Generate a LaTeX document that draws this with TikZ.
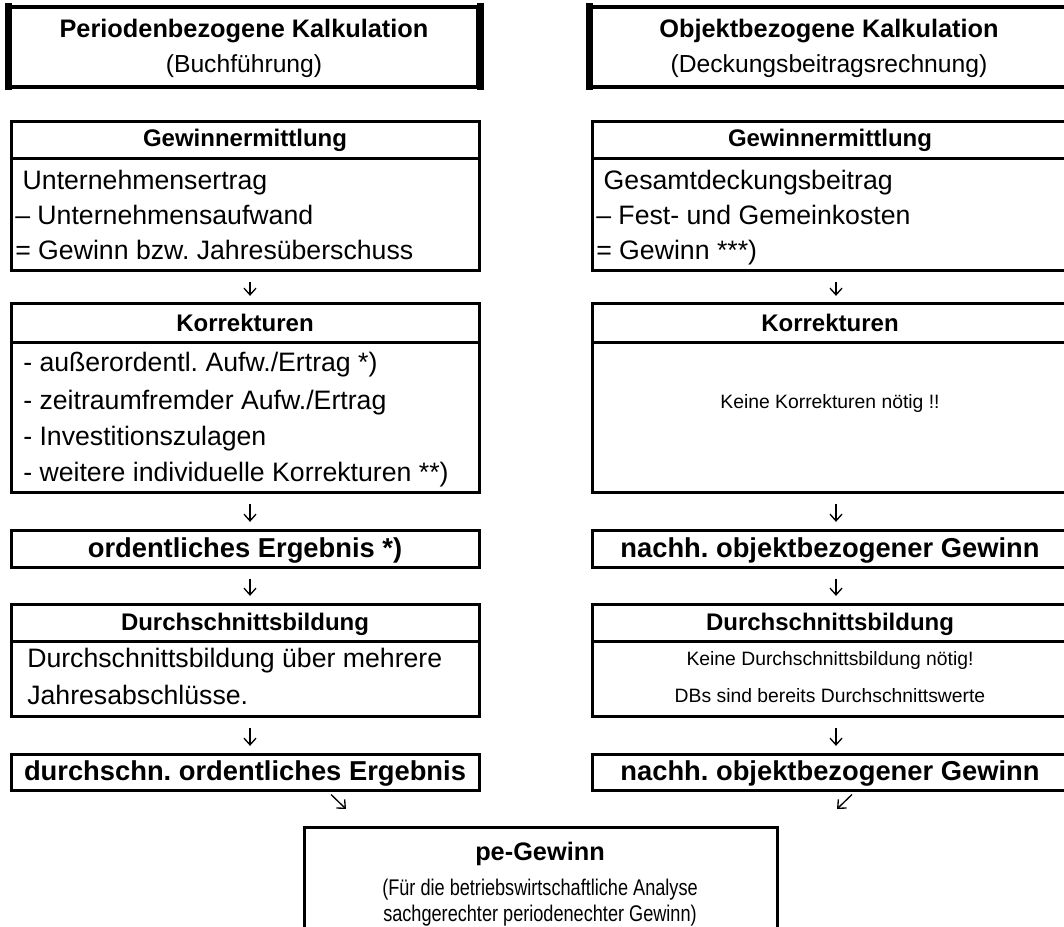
\documentclass[tikz,border=0pt]{standalone}
\usepackage{fontspec}
\setmainfont{Liberation Sans}
\newfontfamily\narrowfont{Liberation Sans}[FakeStretch=0.8]
\usetikzlibrary{arrows.meta,fit,calc}
\frenchspacing
\begin{document}
\begin{tikzpicture}[x=0.75pt,y=-0.75pt,
  frame/.style={draw, line width=2.25pt, inner sep=0pt},
  headframe/.style={draw, line width=3pt, inner sep=0pt},
  rule/.style={line width=2.25pt},
  ttl/.style={font=\fontsize{19}{22}\selectfont\bfseries, anchor=base, inner sep=0pt},
  sub/.style={font=\fontsize{18.5}{22}\selectfont, anchor=base, inner sep=0pt},
  hd/.style={font=\fontsize{18}{22}\selectfont\bfseries, anchor=base, inner sep=0pt},
  res/.style={font=\fontsize{20.5}{24}\selectfont\bfseries, anchor=base, inner sep=0pt},
  txt/.style={font=\fontsize{20}{24}\selectfont, anchor=base west, inner sep=0pt},
  small/.style={font=\fontsize{14.5}{17}\selectfont, anchor=base, inner sep=0pt},
  narrow/.style={font=\fontsize{17}{20}\narrowfont, anchor=base, inner sep=0pt},
  flow/.style={line width=1pt, -{Straight Barb[length=5pt,width=9pt,line width=1pt]}}
]
\useasboundingbox (0,0) rectangle (1064,927);
\clip (0,0) rectangle (1064,927);

% ---------- title boxes ----------
\node[headframe, fit={(10,7) (478,87)}] (tl) {};
\node[headframe, fit={(591,7) (1067,87)}] (tr) {};
\foreach \b in {tl,tr}{
  \draw[line width=5.25pt] ([yshift=1.125pt]\b.north west) -- ([yshift=-1.125pt]\b.south west);
  \draw[line width=5.25pt] ([yshift=1.125pt]\b.north east) -- ([yshift=-1.125pt]\b.south east);
}
\node[ttl] (tl1) at (244,38) {Periodenbezogene Kalkulation};
\node[sub] (tl2) at (244,73) {(Buchführung)};
\node[ttl] (tr1) at (829,38) {Objektbezogene Kalkulation};
\node[sub] (tr2) at (829,73) {(Deckungsbeitragsrechnung)};

% ---------- left column ----------
\node[frame, fit={(11,122) (479,271)}] (lg) {};
\draw[rule] (11,159) -- (479,159);
\node[hd] (lgh) at (245,147) {Gewinnermittlung};
\node[txt] (lg1) at (15,190) {\ Unternehmensertrag};
\node[txt] (lg2) at (15,225) {– Unternehmensaufwand};
\node[txt] (lg3) at (15,260) {= Gewinn bzw. Jahresüberschuss};

\node[frame, fit={(11,304) (479,492)}] (lk) {};
\draw[rule] (11,343) -- (479,343);
\node[hd] (lkh) at (245,331) {Korrekturen};
\node[txt] (lk1) at (23,371) {- außerordentl. Aufw./Ertrag *)};
\node[txt] (lk2) at (23,409) {- zeitraumfremder Aufw./Ertrag};
\node[txt] (lk3) at (23,445) {- Investitionszulagen};
\node[txt] (lk4) at (23,481) {- weitere individuelle Korrekturen **)};

\node[frame, fit={(11,530) (479,567)}] (lo) {};
\node[res] (loh) at (245,557) {ordentliches Ergebnis *)};

\node[frame, fit={(11,604) (479,716)}] (ld) {};
\draw[rule] (11,641) -- (479,641);
\node[hd] (ldh) at (245,630) {Durchschnittsbildung};
\node[txt] (ld1) at (27,667) {Durchschnittsbildung über mehrere};
\node[txt] (ld2) at (27,704) {Jahresabschlüsse.};

\node[frame, fit={(11,754) (479,790)}] (le) {};
\node[res] (leh) at (245,780) {durchschn. ordentliches Ergebnis};

% ---------- right column ----------
\node[frame, fit={(592,122) (1068,271)}] (rg) {};
\draw[rule] (592,159) -- (1068,159);
\node[hd] (rgh) at (830,147) {Gewinnermittlung};
\node[txt] (rg1) at (596,190) {\ Gesamtdeckungsbeitrag};
\node[txt] (rg2) at (596,225) {– Fest- und Gemeinkosten};
\node[txt] (rg3) at (596,260) {= Gewinn ***)};

\node[frame, fit={(592,304) (1068,492)}] (rk) {};
\draw[rule] (592,343) -- (1068,343);
\node[hd] (rkh) at (830,331) {Korrekturen};
\node[small] (rk1) at (830,408) {Keine Korrekturen nötig !!};

\node[frame, fit={(592,530) (1068,567)}] (ro) {};
\node[res] (roh) at (830,557) {nachh. objektbezogener Gewinn};

\node[frame, fit={(592,604) (1068,716)}] (rd) {};
\draw[rule] (592,641) -- (1068,641);
\node[hd] (rdh) at (830,630) {Durchschnittsbildung};
\node[small] (rd1) at (830,665) {Keine Durchschnittsbildung nötig!};
\node[small] (rd2) at (830,702) {DBs sind bereits Durchschnittswerte};

\node[frame, fit={(592,754) (1068,790)}] (re) {};
\node[res] (reh) at (830,780) {nachh. objektbezogener Gewinn};

% ---------- result box ----------
\node[frame, fit={(304,827) (777,940)}] (pe) {};
\node[ttl] (peh) at (540,860) {pe-Gewinn};
\node[narrow] (pe1) at (540,895) {(Für die betriebswirtschaftliche Analyse};
\node[narrow] (pe2) at (540,921) {sachgerechter periodenechter Gewinn)};

% ---------- flow arrows ----------
\foreach \a/\b in {lg/lk, lk/lo, lo/ld, ld/le}{
  \draw[flow] ([xshift=3.75pt,yshift=-7.5pt]\a.south) -- ([xshift=3.75pt,yshift=5pt]\b.north);
}
\foreach \a/\b in {rg/rk, rk/ro, ro/rd, rd/re}{
  \draw[flow] ([xshift=4.5pt,yshift=-7.5pt]\a.south) -- ([xshift=4.5pt,yshift=5pt]\b.north);
}
\draw[flow] ($(le.south)+(86,3)$) -- ($(pe.north west)+(43.5,-16.5)$);
\draw[flow] ($(re.south)+(22,3)$) -- ($(pe.north east)+(58.5,-16.5)$);
\end{tikzpicture}
\end{document}
